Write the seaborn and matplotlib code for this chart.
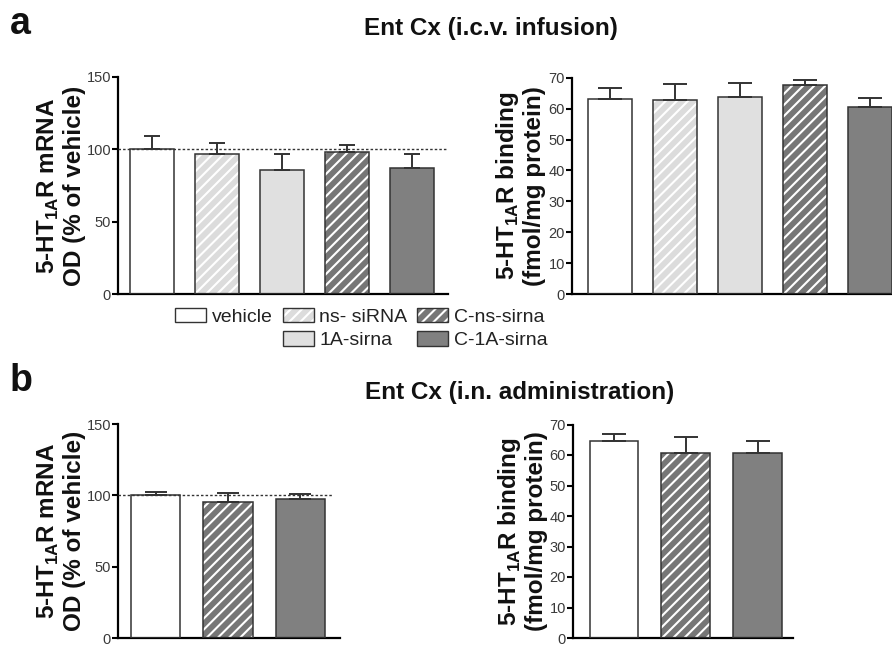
import matplotlib
matplotlib.use("Agg")
import matplotlib.pyplot as plt
import matplotlib.patches as mpatches
from matplotlib.legend_handler import HandlerTuple
import seaborn as sns
import numpy as np

# ---------------- data ----------------
groups_a = ["vehicle", "ns- siRNA", "1A-sirna", "C-ns-sirna", "C-1A-sirna"]
mrna_a = [100.0, 97.0, 86.0, 98.5, 87.0]
mrna_a_err = [9.5, 7.5, 11.0, 4.5, 10.0]
bind_a = [63.1, 62.7, 63.9, 67.6, 60.4]
bind_a_err = [3.6, 5.4, 4.4, 1.5, 3.0]

groups_b = ["vehicle", "C-ns-sirna", "C-1A-sirna"]
mrna_b = [100.0, 95.5, 97.5]
mrna_b_err = [2.0, 6.0, 3.5]
bind_b = [64.6, 60.6, 60.6]
bind_b_err = [2.3, 5.4, 4.0]

title_a = "Ent Cx (i.c.v. infusion)"
title_b = "Ent Cx (i.n. administration)"
ylabel_mrna = "5-HT$_{\\mathbf{1A}}$R mRNA\nOD (% of vehicle)"
ylabel_bind = "5-HT$_{\\mathbf{1A}}$R binding\n(fmol/mg protein)"

# ---------------- styles ----------------
face = {"vehicle": "#ffffff", "ns- siRNA": "#dcdcdc", "1A-sirna": "#e0e0e0",
        "C-ns-sirna": "#767676", "C-1A-sirna": "#808080"}
hatched = {"ns- siRNA", "C-ns-sirna"}
EDGE = "#333333"
HATCH = "///"

sns.set_style("ticks")
plt.rcParams["font.family"] = ["Liberation Sans", "DejaVu Sans"]
plt.rcParams["mathtext.fontset"] = "custom"
plt.rcParams["mathtext.rm"] = "Liberation Sans"
plt.rcParams["mathtext.bf"] = "Liberation Sans:bold"
plt.rcParams["hatch.linewidth"] = 1.5
plt.rcParams["text.color"] = "#111111"
plt.rcParams["axes.labelcolor"] = "#111111"

W, H = 892, 646
fig = plt.figure(figsize=(W / 100, H / 100), dpi=100)


def px_axes(x0, y_bottom_px, w, h):
    return fig.add_axes([x0 / W, (H - y_bottom_px) / H, w / W, h / H])


def draw_panel(ax, groups, vals, errs, ymax, yticks, xlim, capsize, ylabel,
               label_right_px, axis_x_px, width_px, refline=None, ref_xmax=1.0):
    sns.barplot(x=groups, y=vals, hue=groups, order=groups, hue_order=groups,
                palette=[face[g] for g in groups], legend=False, width=0.68,
                edgecolor=EDGE, linewidth=0, saturation=1, ax=ax, zorder=2)
    for p, g in zip(ax.patches, groups):
        if g in hatched:
            p.set_hatch(HATCH)
            p.set_edgecolor("white")
            p.set_linewidth(0)
    pos = np.arange(len(groups))
    ax.bar(pos, vals, width=0.68, fill=False, edgecolor=EDGE, linewidth=1.1,
           zorder=3)
    ax.errorbar(pos, vals, yerr=[np.zeros(len(errs)), errs], fmt="none",
                ecolor=EDGE, elinewidth=1.4, capsize=capsize, capthick=1.4,
                zorder=4)
    if refline is not None:
        ax.axhline(refline, xmin=0, xmax=ref_xmax, color="#333333", lw=1.0,
                   ls=(0, (1.8, 1.5)), zorder=5)
    ax.set_ylim(0, ymax)
    ax.set_yticks(yticks)
    ax.set_xlim(*xlim)
    ax.set_xticks([])
    ax.set_xlabel("")
    for s in ["top", "right"]:
        ax.spines[s].set_visible(False)
    for s in ["left", "bottom"]:
        ax.spines[s].set_linewidth(1.6)
        ax.spines[s].set_color("black")
    ax.tick_params(axis="y", length=4, width=1.5, color="black",
                   labelsize=10.5, labelcolor="#3a3a3a", pad=1)
    ax.set_ylabel(ylabel, fontsize=17.5, fontweight="bold", linespacing=1.12)
    ax.yaxis.set_label_coords((label_right_px - axis_x_px) / width_px, 0.5)


ax1 = px_axes(118, 294, 330, 217)
draw_panel(ax1, groups_a, mrna_a, mrna_a_err, 150, [0, 50, 100, 150],
           (-0.52, 4.56), 5.8, ylabel_mrna, 86, 118, 330, refline=100)

ax2 = px_axes(572, 294, 320, 216.3)
draw_panel(ax2, groups_a, bind_a, bind_a_err, 70, list(range(0, 71, 10)),
           (-0.585, 4.34), 8.3, ylabel_bind, 546, 572, 320)

ax3 = px_axes(118, 638, 222, 214)
draw_panel(ax3, groups_b, mrna_b, mrna_b_err, 150, [0, 50, 100, 150],
           (-0.52, 2.55), 8.0, ylabel_mrna, 86, 118, 222, refline=100,
           ref_xmax=0.97)

ax4 = px_axes(572.7, 638, 220, 213.5)
draw_panel(ax4, groups_b, bind_b, bind_b_err, 70, list(range(0, 71, 10)),
           (-0.574, 2.486), 8.6, ylabel_bind, 548, 572.7, 220)

# titles and panel letters
fig.text(491 / W, 1 - 29 / H, title_a, ha="center", va="center",
         fontsize=17.5, fontweight="bold")
fig.text(520 / W, 1 - 393 / H, title_b, ha="center", va="center",
         fontsize=17.5, fontweight="bold")
fig.text(10 / W, 1 - 24 / H, "a", ha="left", va="center", fontsize=27,
         fontweight="bold")
fig.text(10 / W, 1 - 381 / H, "b", ha="left", va="center", fontsize=27,
         fontweight="bold")


# legend
def leg_handle(g):
    outline = mpatches.Patch(facecolor="none", edgecolor=EDGE, linewidth=1.0)
    if g in hatched:
        fill = mpatches.Patch(facecolor=face[g], edgecolor="white",
                              linewidth=0, hatch=HATCH)
    else:
        fill = mpatches.Patch(facecolor=face[g], edgecolor="none", linewidth=0)
    return (fill, outline)


blank = mpatches.Patch(facecolor="none", edgecolor="none")
handles = [leg_handle("vehicle"), blank, leg_handle("ns- siRNA"),
           leg_handle("1A-sirna"), leg_handle("C-ns-sirna"),
           leg_handle("C-1A-sirna")]
labels = ["vehicle", "", "ns- siRNA", "1A-sirna", "C-ns-sirna", "C-1A-sirna"]
leg = fig.legend(handles, labels, ncol=3, loc="upper left",
                 bbox_to_anchor=(175 / W, 1 - 308 / H), frameon=False,
                 fontsize=14, handlelength=1.6, handleheight=0.75,
                 handletextpad=0.3, columnspacing=0.5, labelspacing=0.28,
                 borderpad=0, borderaxespad=0,
                 handler_map={tuple: HandlerTuple(ndivide=1, pad=0)})
for t in leg.get_texts():
    t.set_color("#222222")

fig.savefig("out.png", dpi=100)
